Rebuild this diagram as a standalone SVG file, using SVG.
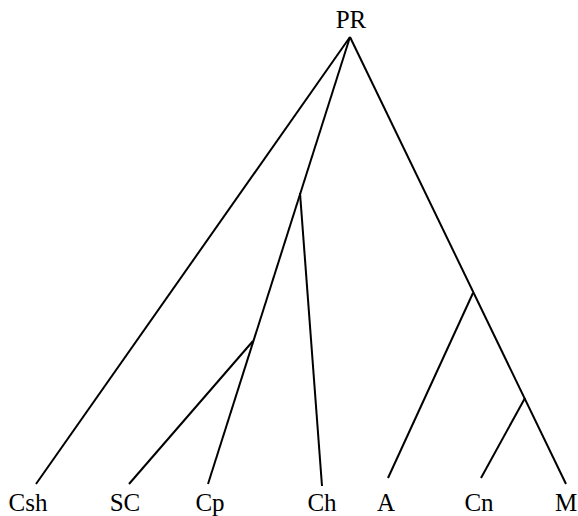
<svg xmlns="http://www.w3.org/2000/svg" width="578" height="516" viewBox="0 0 578 516">
<style>
.e{stroke:#000;stroke-width:2;fill:none;stroke-linecap:butt}
.t{font-family:"Liberation Serif",serif;font-size:25px;fill:#000;text-anchor:middle}
</style>
<rect width="578" height="516" fill="#fff"/>
<g id="connectors">
<line class="e" x1="350" y1="37" x2="36" y2="484"/>
<line class="e" x1="350" y1="37" x2="208" y2="484"/>
<line class="e" x1="350" y1="37" x2="566" y2="484"/>
<line class="e" x1="300" y1="193" x2="322" y2="486"/>
<line class="e" x1="253" y1="341" x2="129" y2="484"/>
<line class="e" x1="473" y1="293" x2="388" y2="478"/>
<line class="e" x1="525" y1="398" x2="481" y2="478"/>
</g>
<g id="PR"><text class="t" x="351" y="28">PR</text></g>
<g id="Csh"><text class="t" x="28" y="511">Csh</text></g>
<g id="SC"><text class="t" x="125" y="511">SC</text></g>
<g id="Cp"><text class="t" x="210" y="511">Cp</text></g>
<g id="Ch"><text class="t" x="322" y="511">Ch</text></g>
<g id="A"><text class="t" x="386" y="511">A</text></g>
<g id="Cn"><text class="t" x="479" y="511">Cn</text></g>
<g id="M"><text class="t" x="566" y="511">M</text></g>
</svg>
